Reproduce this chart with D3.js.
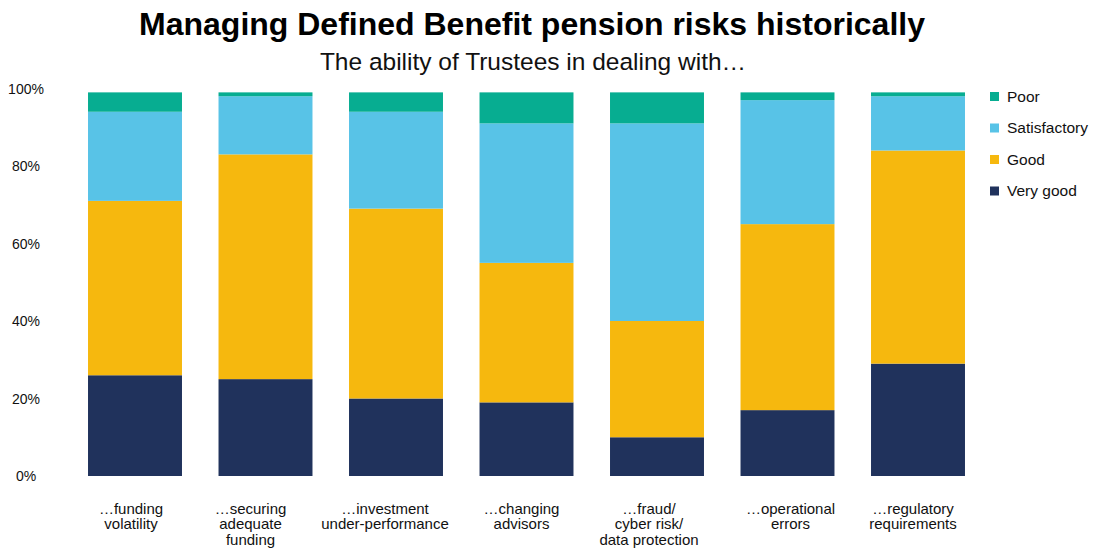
<!DOCTYPE html>
<html>
<head>
<meta charset="utf-8">
<script src="https://cdn.jsdelivr.net/npm/d3@7"></script>
<style>
  html, body { margin: 0; padding: 0; background: #fff; }
  svg { display: block; font-family: "Liberation Sans", Arial, Helvetica, sans-serif; }
</style>
</head>
<body>
<svg id="chart" width="1094" height="548"></svg>
<script>
// Survey categories (x axis), one line of the label per array entry
const categories = [
  ["…funding", "volatility"],
  ["…securing", "adequate", "funding"],
  ["…investment", "under-performance"],
  ["…changing", "advisors"],
  ["…fraud/", "cyber risk/", "data protection"],
  ["…operational", "errors"],
  ["…regulatory", "requirements"]
];

// Share of responses (%) per rating, stacked bottom to top
const veryGood     = [26, 25, 20, 19, 10, 17, 29];
const good         = [45, 58, 49, 36, 30, 48, 55];
const satisfactory = [23, 15, 25, 36, 51, 32, 14];
const poor         = [5, 1, 5, 8, 8, 2, 1];

const seriesNames = ["Very good", "Good", "Satisfactory", "Poor"];
const seriesColors = ["#20325c", "#f6b80e", "#58c3e7", "#07ad91"];

const yTicks = [0, 20, 40, 60, 80, 100];

// Horizontal nudges for the category labels (layout only)
const labelShift = [-4, -15, -11, -5, -8, 3, -5];

const svg = d3.select("#chart");

const rows = categories.map((c, i) => ({
  key: i,
  "Very good": veryGood[i],
  "Good": good[i],
  "Satisfactory": satisfactory[i],
  "Poor": poor[i]
}));

const stacked = d3.stack().keys(seriesNames)(rows);

const x = d3.scaleBand()
  .domain(d3.range(categories.length))
  .range([69.75, 983.25])
  .paddingInner(0.28)
  .paddingOuter(0.14);

const y = d3.scaleLinear().domain([0, 100]).range([476, 88.5]);

// Title and subtitle
svg.append("text")
  .attr("x", 532).attr("y", 35)
  .attr("text-anchor", "middle")
  .attr("font-size", 32).attr("font-weight", "bold")
  .attr("fill", "#000")
  .text("Managing Defined Benefit pension risks historically");

svg.append("text")
  .attr("x", 533).attr("y", 70)
  .attr("text-anchor", "middle")
  .attr("font-size", 24.5)
  .attr("fill", "#111")
  .text("The ability of Trustees in dealing with…");

// Stacked bars
svg.append("g").selectAll("g")
  .data(stacked)
  .join("g")
  .attr("fill", (d, i) => seriesColors[i])
  .selectAll("rect")
  .data(d => d)
  .join("rect")
  .attr("x", (d, i) => x(i))
  .attr("width", x.bandwidth())
  .attr("y", d => y(d[1]))
  .attr("height", d => y(d[0]) - y(d[1]));

// Y axis: percentage labels only, no line or ticks
const yAxis = d3.axisLeft(y)
  .tickValues(yTicks)
  .tickFormat(d => d + "%")
  .tickSize(0);

const yg = svg.append("g")
  .attr("transform", "translate(26,0)")
  .call(yAxis);
yg.select(".domain").remove();
yg.selectAll("text")
  .attr("x", 0)
  .attr("dy", "0.35em")
  .attr("text-anchor", "middle")
  .attr("font-family", "'Liberation Sans', Arial, sans-serif")
  .attr("font-size", 14)
  .attr("fill", "#111");

// Category labels below the bars
const xAxis = d3.axisBottom(x).tickSize(0).tickFormat("");
const xg = svg.append("g")
  .attr("transform", "translate(0,476)")
  .call(xAxis);
xg.select(".domain").remove();
xg.selectAll(".tick").each(function(d, i) {
  const t = d3.select(this).append("text")
    .attr("text-anchor", "middle")
    .attr("font-size", 15)
    .attr("fill", "#111")
    .attr("font-family", "'Liberation Sans', Arial, sans-serif");
  categories[i].forEach((line, j) => {
    t.append("tspan")
      .attr("x", labelShift[i])
      .attr("y", 37.5 + j * 15.5)
      .text(line);
  });
});

// Legend, top entry first
const legendOrder = [3, 2, 1, 0];
const legend = svg.append("g").selectAll("g")
  .data(legendOrder)
  .join("g")
  .attr("transform", (d, i) => `translate(990,${96.5 + i * 31.5})`);

legend.append("rect")
  .attr("x", 0).attr("y", -4.5)
  .attr("width", 9).attr("height", 9)
  .attr("fill", d => seriesColors[d]);

legend.append("text")
  .attr("x", 17).attr("y", 0)
  .attr("dy", "0.35em")
  .attr("font-size", 15.5)
  .attr("fill", "#111")
  .text(d => seriesNames[d]);
</script>
</body>
</html>
